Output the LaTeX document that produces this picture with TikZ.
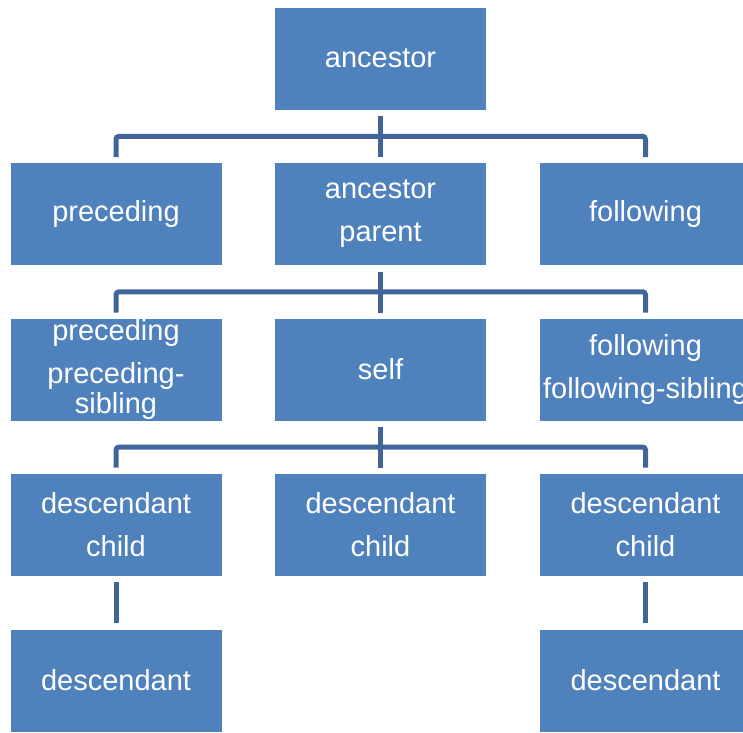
\documentclass[tikz,border=0pt]{standalone}
\usepackage{fontspec}
\setmainfont{Liberation Sans}
\usetikzlibrary{calc}
\definecolor{boxblue}{HTML}{4F81BD}
\definecolor{linkblue}{HTML}{41659A}
\begin{document}
\begin{tikzpicture}[x=1pt,y=1pt,
  axisbox/.style={rectangle, fill=boxblue, draw=white, line width=0.6pt,
    minimum width=212pt, minimum height=103pt, inner sep=0pt,
    text=white, align=center, font=\fontsize{29}{43}\selectfont},
  conn/.style={draw=linkblue, line width=5pt, rounded corners=3pt}]
\useasboundingbox (0,0) rectangle (743,-732);
\clip (0,0) rectangle (743,-732);

% columns and rows
\def\cA{116}\def\cB{380.5}\def\cC{645.5}

\node[axisbox] (anc) at (\cB,-58.5) {ancestor};

\node[axisbox] (pre) at (\cA,-214) {preceding};
\node[axisbox] (par) at (\cB,-214) {ancestor\\parent};
\node[axisbox] (fol) at (\cC,-214) {following};

\node[axisbox] (psib) at (\cA,-369.5) {preceding\\preceding-\\[-13pt]sibling};
\node[axisbox] (self) at (\cB,-369.5) {self};
\node[axisbox] (fsib) at (\cC,-369.5) {following\\following-sibling};

\node[axisbox] (chA) at (\cA,-524.5) {descendant\\child};
\node[axisbox] (chB) at (\cB,-524.5) {descendant\\child};
\node[axisbox] (chC) at (\cC,-524.5) {descendant\\child};

\node[axisbox] (dA) at (\cA,-680.5) {descendant};
\node[axisbox] (dC) at (\cC,-680.5) {descendant};

% tree connectors: stem from parent, bar, and drops to children
\draw[conn] ([yshift=-6pt]anc.south) -- ([yshift=5pt]par.north);
\draw[conn] ([yshift=5pt]pre.north) |- ($(anc.south)!0.5!(par.north)$) -| ([yshift=5pt]fol.north);

\draw[conn] ([yshift=-6pt]par.south) -- ([yshift=5pt]self.north);
\draw[conn] ([yshift=5pt]psib.north) |- ($(par.south)!0.5!(self.north)$) -| ([yshift=5pt]fsib.north);

\draw[conn] ([yshift=-6pt]self.south) -- ([yshift=5pt]chB.north);
\draw[conn] ([yshift=5pt]chA.north) |- ($(self.south)!0.5!(chB.north)$) -| ([yshift=5pt]chC.north);

\draw[conn] ([yshift=-6pt]chA.south) -- ([yshift=6pt]dA.north);
\draw[conn] ([yshift=-6pt]chC.south) -- ([yshift=6pt]dC.north);
\end{tikzpicture}
\end{document}
